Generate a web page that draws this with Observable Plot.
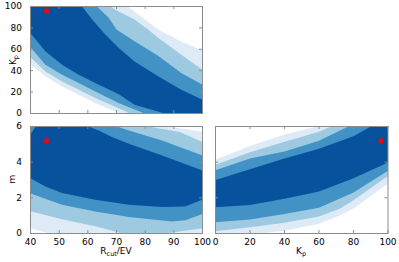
<!DOCTYPE html>
<html><head><meta charset="utf-8">
<script src="https://cdn.jsdelivr.net/npm/d3@7"></script>
<script src="https://cdn.jsdelivr.net/npm/@observablehq/plot@0.6"></script>
<style>
html,body{margin:0;padding:0;background:#fff;}
#chart{position:relative;width:399px;height:262px;font-family:"DejaVu Sans",sans-serif;}
#chart svg{position:absolute;overflow:visible;}
</style></head><body><div id="chart"></div>
<script>
const levelColors = ["#deebf7", "#9ecae1", "#4292c6", "#08519c"];
const rcutTicks = [40, 50, 60, 70, 80, 90, 100];
const kpTicks = [0, 20, 40, 60, 80, 100];
const kpTicksX = [0, 20, 40, 60, 80, 100];
const mTicks = [0, 2, 4, 6];
const truthRcut = [45.6];
const truthKp = [96];
const truthM = [5.2];

// Panel 1: Rcut/EV (x) vs Kp (y) — upper / lower boundaries of each level
const p1LightestUpper = [[40,100],[74,100],[84.5,78.4],[92,68],[100,58.8]];
const p1LightestLower = [[40,46],[45.2,34.7],[51,25.3],[56.8,17.5],[62.6,9.7],[71.1,0],[100,0]];
const p1LightUpper = [[40,100],[68,100],[69.4,97.2],[76.3,87.8],[81,78.4],[84.5,70.7],[92.6,55],[100,41]];
const p1LightLower = [[40,52.5],[45.2,39.3],[51,30],[56.8,22.2],[62.6,14.4],[70.8,5],[74.6,0],[100,0]];
const p1MediumUpper = [[40,100],[63.2,100],[67.3,89.4],[70,78.4],[76.3,67.5],[84.5,54],[92.6,37.9],[100,26.9]];
const p1MediumLower = [[40,62],[45.2,45.6],[51,36.3],[56.8,28.5],[62.6,20.6],[70.5,10],[79.8,0],[100,0]];
const p1DarkUpper = [[40,100],[58,100],[61.5,87.8],[66.1,73.8],[70.8,61.3],[76.3,48.7],[84.5,34.7],[92.6,22.2],[100,12.8]];
const p1DarkLower = [[40,75],[45.2,58.1],[51,45.6],[56.8,36.3],[62.6,28.5],[70.8,18],[76.3,8.2],[86.8,0],[100,0]];

// Panel 2: Rcut/EV (x) vs m (y)
const p2LightestUpper = [[40,6],[88,6],[100,5.7]];
const p2LightestLower = [[40,0.3],[46.4,0],[100,0]];
const p2LightUpper = [[40,6],[81.2,6],[92.1,5.69],[100,5.13]];
const p2LightLower = [[40,1.25],[51,0.8],[62.6,0.4],[72,0],[87,0],[100,0.3]];
const p2MediumUpper = [[40,6],[70.2,6],[74.3,5.78],[85.9,5.22],[100,4.38]];
const p2MediumLower = [[40,2.25],[51,1.61],[62.6,1.23],[74.3,0.92],[89.3,0.67],[94,0.75],[100,1.1]];
const p2DarkUpper = [[40,5.55],[41.8,6],[60.3,6],[63.8,5.78],[68.4,5.41],[74.3,5.03],[85.9,4.38],[100,3.53]];
const p2DarkLower = [[40,3.1],[45,2.65],[51,2.27],[62.6,1.89],[74.3,1.61],[85.9,1.48],[94,1.51],[100,1.91]];

// Panel 3: Kp (x) vs m (y)
const p3LightestUpper = [[0,4.15],[20,4.9],[40,5.55],[59,6],[100,6]];
const p3LightestLower = [[0,0],[25,0],[40,0.15],[60,0.55],[70,0.92],[80,1.4],[100,2.8]];
const p3LightUpper = [[0,3.85],[20,4.55],[40,5.15],[60,5.7],[67,6],[100,6]];
const p3LightLower = [[0,0.12],[20,0.35],[40,0.6],[60,0.95],[72,1.39],[80,1.86],[100,3.22]];
const p3MediumUpper = [[0,3.55],[20,4.2],[40,4.6],[60,5.2],[77,6],[100,6]];
const p3MediumLower = [[0,0.63],[20,0.78],[40,1.1],[60,1.45],[80,2.3],[100,3.52]];
const p3DarkUpper = [[0,3.0],[20,3.6],[40,4.2],[60,4.75],[80,5.45],[90,6],[100,6]];
const p3DarkLower = [[0,1.47],[20,1.6],[40,1.95],[60,2.35],[80,3.1],[100,3.98]];

const region = (upper, lower) => [...upper, ...lower.slice().reverse()];

const chart = document.getElementById("chart");
const gray = "#8c8c8c";

function panel({left, top, width, height, ml, mr, mt, mb, xDomain, yDomain, xTicks, yTicks, showX, showY, regions, dot}) {
  const iw = width - ml - mr, ih = height - mt - mb, t = 3;
  const marks = [];
  regions.forEach((poly, i) => marks.push(
    Plot.line(poly, {x: d => d[0], y: d => d[1], fill: levelColors[i], stroke: "none"})));
  marks.push(Plot.dot([dot], {x: d => d[0], y: d => d[1], r: 2.6, fill: "#ff0000"}));
  marks.push(Plot.tickX(xTicks, {x: d => d, stroke: gray, insetTop: ih - t}));
  marks.push(Plot.tickX(xTicks, {x: d => d, stroke: gray, insetBottom: ih - t}));
  marks.push(Plot.tickY(yTicks, {y: d => d, stroke: gray, insetRight: iw - t}));
  marks.push(Plot.tickY(yTicks, {y: d => d, stroke: gray, insetLeft: iw - t}));
  marks.push(Plot.frame({stroke: gray}));
  if (showX) marks.push(Plot.axisX(xTicks, {tickSize: 0, tickPadding: 5, label: null, fill: "#000"}));
  if (showY) marks.push(Plot.axisY(yTicks, {tickSize: 0, tickPadding: 8.5, label: null, fill: "#000"}));
  const svg = Plot.plot({
    width, height, marginLeft: ml, marginRight: mr, marginTop: mt, marginBottom: mb,
    x: {domain: xDomain, axis: null},
    y: {domain: yDomain, axis: null},
    style: {fontFamily: '"DejaVu Sans", sans-serif', fontSize: "9px", background: "transparent", overflow: "visible", color: "#000"},
    marks
  });
  svg.style.left = left + "px";
  svg.style.top = top + "px";
  chart.appendChild(svg);
}

panel({left: 0, top: 0, width: 210, height: 120, ml: 30, mr: 8, mt: 6, mb: 7,
  xDomain: [40, 100], yDomain: [0, 100], xTicks: rcutTicks, yTicks: kpTicks, showX: false, showY: true,
  regions: [region(p1LightestUpper, p1LightestLower), region(p1LightUpper, p1LightLower),
            region(p1MediumUpper, p1MediumLower), region(p1DarkUpper, p1DarkLower)],
  dot: [truthRcut[0], truthKp[0]]});

panel({left: 0, top: 118, width: 210, height: 144, ml: 30, mr: 8, mt: 8, mb: 29,
  xDomain: [40, 100], yDomain: [0, 6], xTicks: rcutTicks, yTicks: mTicks, showX: true, showY: true,
  regions: [region(p2LightestUpper, p2LightestLower), region(p2LightUpper, p2LightLower),
            region(p2MediumUpper, p2MediumLower), region(p2DarkUpper, p2DarkLower)],
  dot: [truthRcut[0], truthM[0]]});

panel({left: 200, top: 118, width: 199, height: 144, ml: 15, mr: 11.5, mt: 8, mb: 29,
  xDomain: [0, 100], yDomain: [0, 6], xTicks: kpTicksX, yTicks: mTicks, showX: true, showY: false,
  regions: [region(p3LightestUpper, p3LightestLower), region(p3LightUpper, p3LightLower),
            region(p3MediumUpper, p3MediumLower), region(p3DarkUpper, p3DarkLower)],
  dot: [truthKp[0], truthM[0]]});

// Axis titles with subscripts
const ov = d3.select(chart).append("svg")
  .attr("width", 399).attr("height", 262)
  .style("left", "0px").style("top", "0px").style("pointer-events", "none")
  .attr("font-family", '"DejaVu Sans", sans-serif').attr("font-size", 9).attr("fill", "#000");

function subLabel(x, y, parts, rotate) {
  const t = ov.append("text").attr("text-anchor", "middle")
    .attr("transform", `translate(${x},${y})` + (rotate ? " rotate(-90)" : ""));
  parts.forEach(([s, sub]) => {
    const ts = t.append("tspan").text(s);
    if (sub) ts.attr("font-size", 6.5).attr("dy", 2);
    else if (t.node().childNodes.length > 1) ts.attr("dy", -2);
  });
}
subLabel(15.5, 60, [["K", false], ["p", true]], true);
subLabel(15, 179, [["m", false]], true);
subLabel(116, 253.5, [["R", false], ["cut", true], ["/EV", false]], false);
subLabel(301, 253.5, [["K", false], ["p", true]], false);
</script></body></html>
